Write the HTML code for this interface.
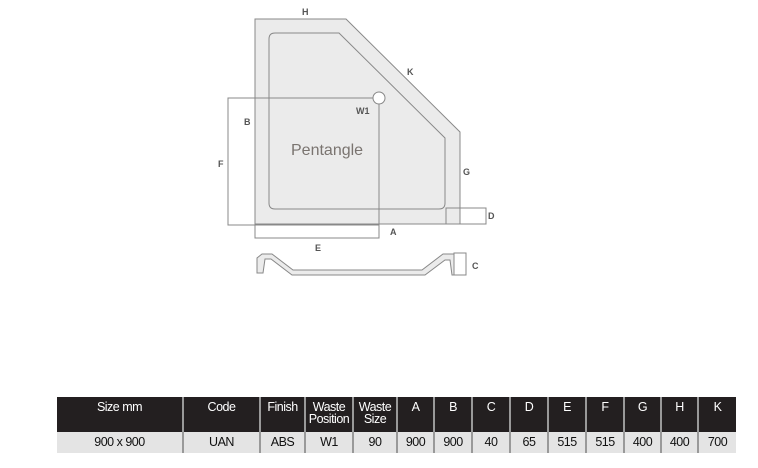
<!DOCTYPE html>
<html><head><style>
body{margin:0;width:758px;height:468px;background:#fff;overflow:hidden;font-family:"Liberation Sans",sans-serif}
svg{position:absolute;left:0;top:0}
table{position:absolute;left:57px;top:397px;width:679px;table-layout:fixed;border-collapse:collapse;font-family:"Liberation Sans",sans-serif;font-size:12.5px;letter-spacing:-0.5px}
td{text-align:center;padding:0;border-left:2px solid #999;overflow:hidden}
td:first-child{border-left:none}
tr.h td{background:#231f20;color:#fff;height:35px;vertical-align:top;line-height:12px;padding-top:4px;box-sizing:border-box}
tr.d td{background:#e4e4e4;color:#111;height:21px;line-height:21px}
</style></head><body>
<svg width="758" height="468" font-family="Liberation Sans,sans-serif" font-weight="bold" font-size="9" fill="#555">
<polygon points="255,19 346,19 460,132 460,224 255,224" fill="#ebebeb" stroke="#888" stroke-width="1"/>
<path d="M275,33 L339,33 L445,138 L445,203 Q445,209 439,209 L275,209 Q269,209 269,203 L269,39 Q269,33 275,33 Z" fill="#ebebeb" stroke="#888" stroke-width="1"/>
<rect x="228" y="98" width="151" height="127" fill="none" stroke="#888" stroke-width="1"/>
<rect x="255" y="224" width="124" height="14" fill="none" stroke="#888" stroke-width="1"/>
<rect x="446" y="208" width="40" height="16" fill="none" stroke="#888" stroke-width="1"/>
<circle cx="379" cy="98" r="6" fill="#fff" stroke="#888"/>
<polygon points="257,273 257,258 262,254 272,254 293,270 422,270 443,254 455,254 456,275 452,275 450,260 445,260 425,275 292,275 271,259 265,259 263,273" fill="#ebebeb" stroke="#888" stroke-width="1"/>
<rect x="454" y="253" width="12" height="22" fill="#fff" stroke="#888" stroke-width="1"/>
<text x="302" y="15">H</text>
<text x="407" y="75">K</text>
<text x="356" y="114">W1</text>
<text x="244" y="125">B</text>
<text x="218" y="167">F</text>
<text x="463" y="175">G</text>
<text x="488" y="219">D</text>
<text x="390" y="235">A</text>
<text x="315" y="251">E</text>
<text x="472" y="269">C</text>
<text x="291" y="155" font-weight="normal" font-size="16" fill="#7a7470">Pentangle</text>
</svg>
<table>
<colgroup><col style="width:126px"><col style="width:77px"><col style="width:45px"><col style="width:48px"><col style="width:44px"><col style="width:37px"><col style="width:38px"><col style="width:38px"><col style="width:38px"><col style="width:38px"><col style="width:38px"><col style="width:37px"><col style="width:37px"><col style="width:38px"></colgroup>
<tr class="h"><td>Size mm</td><td>Code</td><td>Finish</td><td>Waste Position</td><td>Waste Size</td><td>A</td><td>B</td><td>C</td><td>D</td><td>E</td><td>F</td><td>G</td><td>H</td><td>K</td></tr>
<tr class="d"><td>900 x 900</td><td>UAN</td><td>ABS</td><td>W1</td><td>90</td><td>900</td><td>900</td><td>40</td><td>65</td><td>515</td><td>515</td><td>400</td><td>400</td><td>700</td></tr>
</table>
</body></html>
